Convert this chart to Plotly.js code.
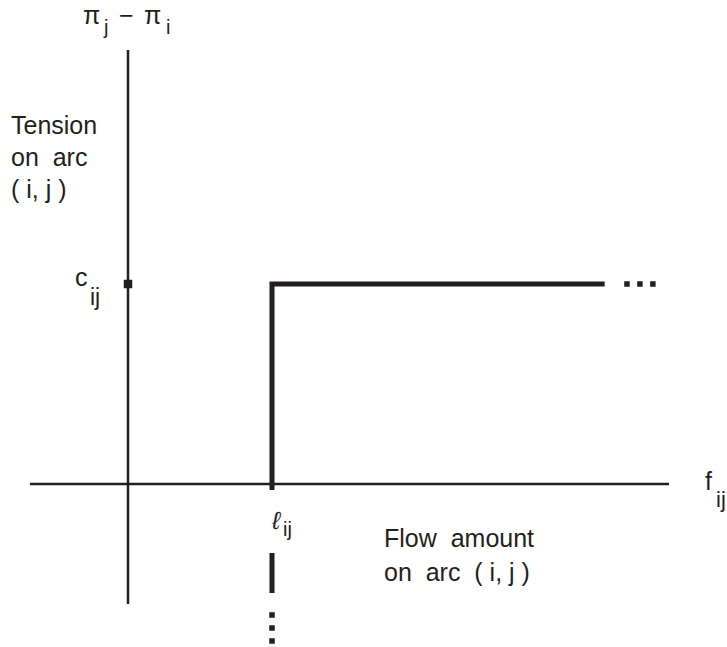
<!DOCTYPE html>
<html>
<head>
<meta charset="utf-8">
<script src="https://cdn.plot.ly/plotly-3.0.1.min.js"></script>
<style>
  html, body { margin: 0; padding: 0; background: #fff; }
  #chart { width: 727px; height: 647px; }
</style>
</head>
<body>
<div id="chart"></div>
<script>
// Tension vs. flow characteristic of arc (i, j): flow lower bound ell_ij, cost c_ij
const lowerBound = 1;      // ell_ij on the flow axis
const arcCost = 1;         // c_ij on the tension axis
const flowEnd = 3.31;      // where the drawn horizontal branch stops

// step curve: vertical branch at ell_ij, then horizontal branch at c_ij
const stepX = [lowerBound, lowerBound, flowEnd];
const stepY = [-0.03, arcCost, arcCost];

// continuation of the vertical branch downward (dash + dots)
const downDashX = [lowerBound, lowerBound];
const downDashY = [-0.345, -0.545];
const downDotsX = [lowerBound, lowerBound, lowerBound];
const downDotsY = [-0.655, -0.72, -0.785];

// continuation of the horizontal branch to the right (ellipsis)
const rightDotsX = [3.465, 3.555, 3.645];
const rightDotsY = [arcCost, arcCost, arcCost];

// coordinate axes
const flowAxisX = [-0.681, 3.757];
const flowAxisY = [0, 0];
const tensionAxisX = [0, 0];
const tensionAxisY = [2.17, -0.6];

const ink = '#231f20';
const W = 727, H = 647;
const fx = x => x / W;
const fy = y => 1 - y / H;
const family = '"Liberation Sans", Arial, sans-serif';

const traces = [
  { x: flowAxisX, y: flowAxisY, mode: 'lines', line: { color: ink, width: 2.5 }, hoverinfo: 'skip' },
  { x: tensionAxisX, y: tensionAxisY, mode: 'lines', line: { color: ink, width: 2.5 }, hoverinfo: 'skip' },
  { x: stepX, y: stepY, mode: 'lines', line: { color: ink, width: 5 }, hoverinfo: 'skip' },
  { x: downDashX, y: downDashY, mode: 'lines', line: { color: ink, width: 5 }, hoverinfo: 'skip' },
  { x: downDotsX, y: downDotsY, mode: 'markers', marker: { symbol: 'square', size: 5.5, color: ink }, hoverinfo: 'skip' },
  { x: rightDotsX, y: rightDotsY, mode: 'markers', marker: { symbol: 'square', size: 5.5, color: ink }, hoverinfo: 'skip' },
  { x: [0], y: [arcCost], mode: 'markers', marker: { symbol: 'square', size: 8.5, color: ink }, hoverinfo: 'skip' }
];

// text placed in pixel terms (x = left edge, y = vertical middle)
function label(text, x, y, size) {
  return { text, x: fx(x), y: fy(y), xref: 'paper', yref: 'paper',
           xanchor: 'left', yanchor: 'middle', showarrow: false,
           font: { family, size: size || 25, color: ink } };
}

const annotations = [
  // vertical axis title: pi_j - pi_i
  label('π', 81, 15), label('j', 101, 27, 20),
  label('−', 117, 15), label('π', 142, 15), label('i', 164, 27, 20),
  // tension description
  label('Tension', 9, 125),
  label('on  arc', 9, 157),
  label('( i, j )', 9, 189),
  // cost level c_ij
  label('c', 73, 277), label('ij', 88, 297, 23),
  // lower bound ell_ij
  label('<i>ℓ</i>', 269, 520), label('ij', 281, 529, 20),
  // flow axis name f_ij
  label('f', 703, 481), label('ij', 714, 499, 22),
  // flow description
  label('Flow  amount', 382, 538),
  label('on  arc  ( i, j )', 382, 572)
];

const layout = {
  width: W, height: H,
  margin: { l: 0, r: 0, t: 0, b: 0 },
  paper_bgcolor: '#fff', plot_bgcolor: '#fff',
  showlegend: false,
  xaxis: { range: [-128 / 144, (W - 128) / 144], visible: false, fixedrange: true },
  yaxis: { range: [-(H - 484) / 200, 484 / 200], visible: false, fixedrange: true },
  annotations
};

Plotly.newPlot('chart', traces, layout, { staticPlot: true });
</script>
</body>
</html>
